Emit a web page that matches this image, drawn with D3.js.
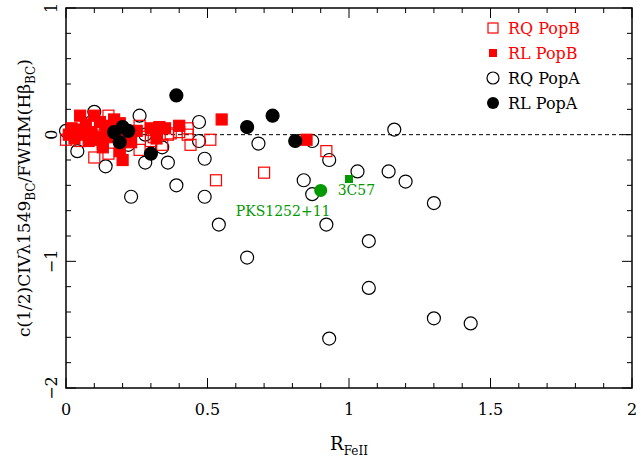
<!DOCTYPE html>
<html><head><meta charset="utf-8">
<script src="https://cdn.jsdelivr.net/npm/d3@7"></script>
<style>body{margin:0;background:#fff}text{font-family:"DejaVu Serif",serif}</style>
</head><body><svg id="c" width="641" height="468"></svg>
<script>
const rqPopA = [[0.10,0.18],[0.26,0.15],[0.47,0.10],[0.47,-0.05],[0.04,-0.13],[0.14,-0.25],[0.28,-0.22],[0.36,-0.22],[0.23,-0.49],[0.39,-0.40],[0.49,-0.19],[0.49,-0.49],[0.54,-0.71],[0.68,-0.07],[0.64,-0.97],[0.87,-0.05],[0.93,-0.20],[0.84,-0.36],[0.87,-0.47],[0.92,-0.71],[0.93,-1.61],[1.03,-0.29],[1.07,-0.84],[1.07,-1.21],[1.14,-0.29],[1.16,0.04],[1.20,-0.37],[1.30,-0.54],[1.30,-1.45],[1.43,-1.49],[0.0,0.03],[0.28,0.0],[0.34,-0.10],[0.22,-0.08],[0.09,0.10]];
const rlPopA = [[0.39,0.31],[0.73,0.15],[0.64,0.06],[0.81,-0.05],[0.30,-0.15],[0.20,0.06],[0.22,0.03],[0.19,-0.06],[0.17,0.02]];
const rqPopB = [[0.53,-0.36],[0.70,-0.30],[0.92,-0.13],[0.51,-0.04],[0.44,-0.08],[0.43,0.05],[0.43,0.0],[0.36,0.0],[0.37,0.01],[0.26,0.07],[0.26,-0.12],[0.30,-0.05],[0.34,-0.08],[0.15,-0.15],[0.10,-0.18],[0.15,0.15],[0.10,0.08],[0.0,-0.04],[0.05,-0.05],[0.13,-0.07],[0.31,-0.02],[0.40,0.02],[0.07,0.02],[0.20,-0.03]];
const rlPopB = [[0.55,0.12],[0.85,-0.04],[0.40,0.07],[0.33,0.06],[0.30,0.05],[0.20,-0.20],[0.19,-0.13],[0.17,0.12],[0.10,0.15],[0.05,0.15],[0.12,0.10],[0.02,0.05],[0.03,-0.03],[0.06,0.0],[0.08,-0.05],[0.11,-0.04],[0.14,0.04],[0.16,-0.02],[0.18,0.05],[0.21,0.0],[0.23,-0.06],[0.09,0.02],[0.13,-0.10],[0.07,0.08],[0.01,0.0],[0.25,0.03],[0.15,0.07],[0.04,0.04],[0.12,-0.02],[0.19,0.09],[0.32,-0.03],[0.35,0.05]];
const greenCircle = [[0.90,-0.44,"PKS1252+11"]];
const greenSquare = [[1.00,-0.35,"3C57"]];
const xTicks = [0,0.5,1,1.5,2], yTicks = [-2,-1,0,1];

const svg = d3.select("#c");
const L=66,R=632,T=8,B=388;
const x = d3.scaleLinear([0,2],[L,R]), y = d3.scaleLinear([-2,1],[B,T]);
const red="#f00", green="#009900";

const g=svg.append("g").attr("stroke","#000").attr("stroke-width",1);
d3.range(0,2.0001,0.1).forEach((v,i)=>{const l=i%5==0?10:5;
  g.append("line").attr("x1",x(v)).attr("x2",x(v)).attr("y1",B).attr("y2",B-l);
  g.append("line").attr("x1",x(v)).attr("x2",x(v)).attr("y1",T).attr("y2",T+l);});
d3.range(-2,1.0001,0.2).forEach((v,i)=>{const l=i%5==0?10:5;
  g.append("line").attr("y1",y(v)).attr("y2",y(v)).attr("x1",L).attr("x2",L+l);
  g.append("line").attr("y1",y(v)).attr("y2",y(v)).attr("x1",R).attr("x2",R-l);});
svg.append("rect").attr("x",L).attr("y",T).attr("width",R-L).attr("height",B-T).attr("fill","none").attr("stroke","#000").attr("stroke-width",1.5);
svg.append("line").attr("x1",L).attr("x2",R).attr("y1",y(0)).attr("y2",y(0)).attr("stroke","#000").attr("stroke-dasharray","4,3");

xTicks.forEach(v=>svg.append("text").attr("x",x(v)).attr("y",B+27).attr("text-anchor","middle").attr("font-size",16).text(d3.format("")(v)));
yTicks.forEach(v=>svg.append("text").attr("transform",`translate(${L-9},${y(v)}) rotate(-90)`).attr("text-anchor","middle").attr("font-size",16).text(v<0?"\u2212"+(-v):v));

const s=11;
function sq(data,fill,stroke){svg.append("g").selectAll("rect").data(data).join("rect").attr("x",d=>x(d[0])-s/2).attr("y",d=>y(d[1])-s/2).attr("width",s).attr("height",s).attr("fill",fill).attr("stroke",stroke).attr("stroke-width",1.2);}
function ci(data,fill){svg.append("g").selectAll("circle").data(data).join("circle").attr("cx",d=>x(d[0])).attr("cy",d=>y(d[1])).attr("r",6.5).attr("fill",fill).attr("stroke","#000").attr("stroke-width",1.2);}
ci(rqPopA,"none");
sq(rqPopB,"none",red);
sq(rlPopB,red,red);
ci(rlPopA,"#000");
svg.selectAll(".gc").data(greenCircle).join("circle").attr("cx",d=>x(d[0])).attr("cy",d=>y(d[1])).attr("r",6.5).attr("fill",green);
svg.selectAll(".gs").data(greenSquare).join("rect").attr("x",d=>x(d[0])-4).attr("y",d=>y(d[1])-4).attr("width",8).attr("height",8).attr("fill",green);
svg.append("text").attr("x",x(0.96)).attr("y",y(-0.44)+5).attr("fill",green).attr("font-size",14).text(greenSquare[0][2]);
svg.append("text").attr("x",x(0.60)).attr("y",y(-0.60)+5).attr("fill",green).attr("font-size",14).text(greenCircle[0][2]);

const leg=[["RQ PopB","osq",red],["RL PopB","fsq",red],["RQ PopA","oci","#000"],["RL PopA","fci","#000"]];
leg.forEach((d,i)=>{const ly=28+i*25, lx=493;
  if(d[1]=="osq") svg.append("rect").attr("x",lx-5).attr("y",ly-5).attr("width",10).attr("height",10).attr("fill","none").attr("stroke",red).attr("stroke-width",1.2);
  if(d[1]=="fsq") svg.append("rect").attr("x",lx-4).attr("y",ly-4).attr("width",8).attr("height",8).attr("fill",red);
  if(d[1]=="oci") svg.append("circle").attr("cx",lx).attr("cy",ly).attr("r",6).attr("fill","none").attr("stroke","#000").attr("stroke-width",1.2);
  if(d[1]=="fci") svg.append("circle").attr("cx",lx).attr("cy",ly).attr("r",6).attr("fill","#000");
  svg.append("text").attr("x",lx+15).attr("y",ly+6).attr("fill",d[2]).attr("font-size",16).text(d[0]);});

const xl=svg.append("text").attr("x",x(1)).attr("y",B+62).attr("text-anchor","middle").attr("font-size",18);
xl.append("tspan").text("R");xl.append("tspan").attr("font-size",12).attr("dy",5).text("FeII");
const yl=svg.append("text").attr("transform",`translate(30,${y(-0.5)}) rotate(-90)`).attr("text-anchor","middle").attr("font-size",17);
yl.append("tspan").text("c(1/2)CIV\u03bb1549");yl.append("tspan").attr("font-size",12).attr("dy",5).text("BC");
yl.append("tspan").attr("dy",-5).text("/FWHM(H\u03b2");yl.append("tspan").attr("font-size",12).attr("dy",5).text("BC");
yl.append("tspan").attr("dy",-5).text(")");
</script></body></html>
